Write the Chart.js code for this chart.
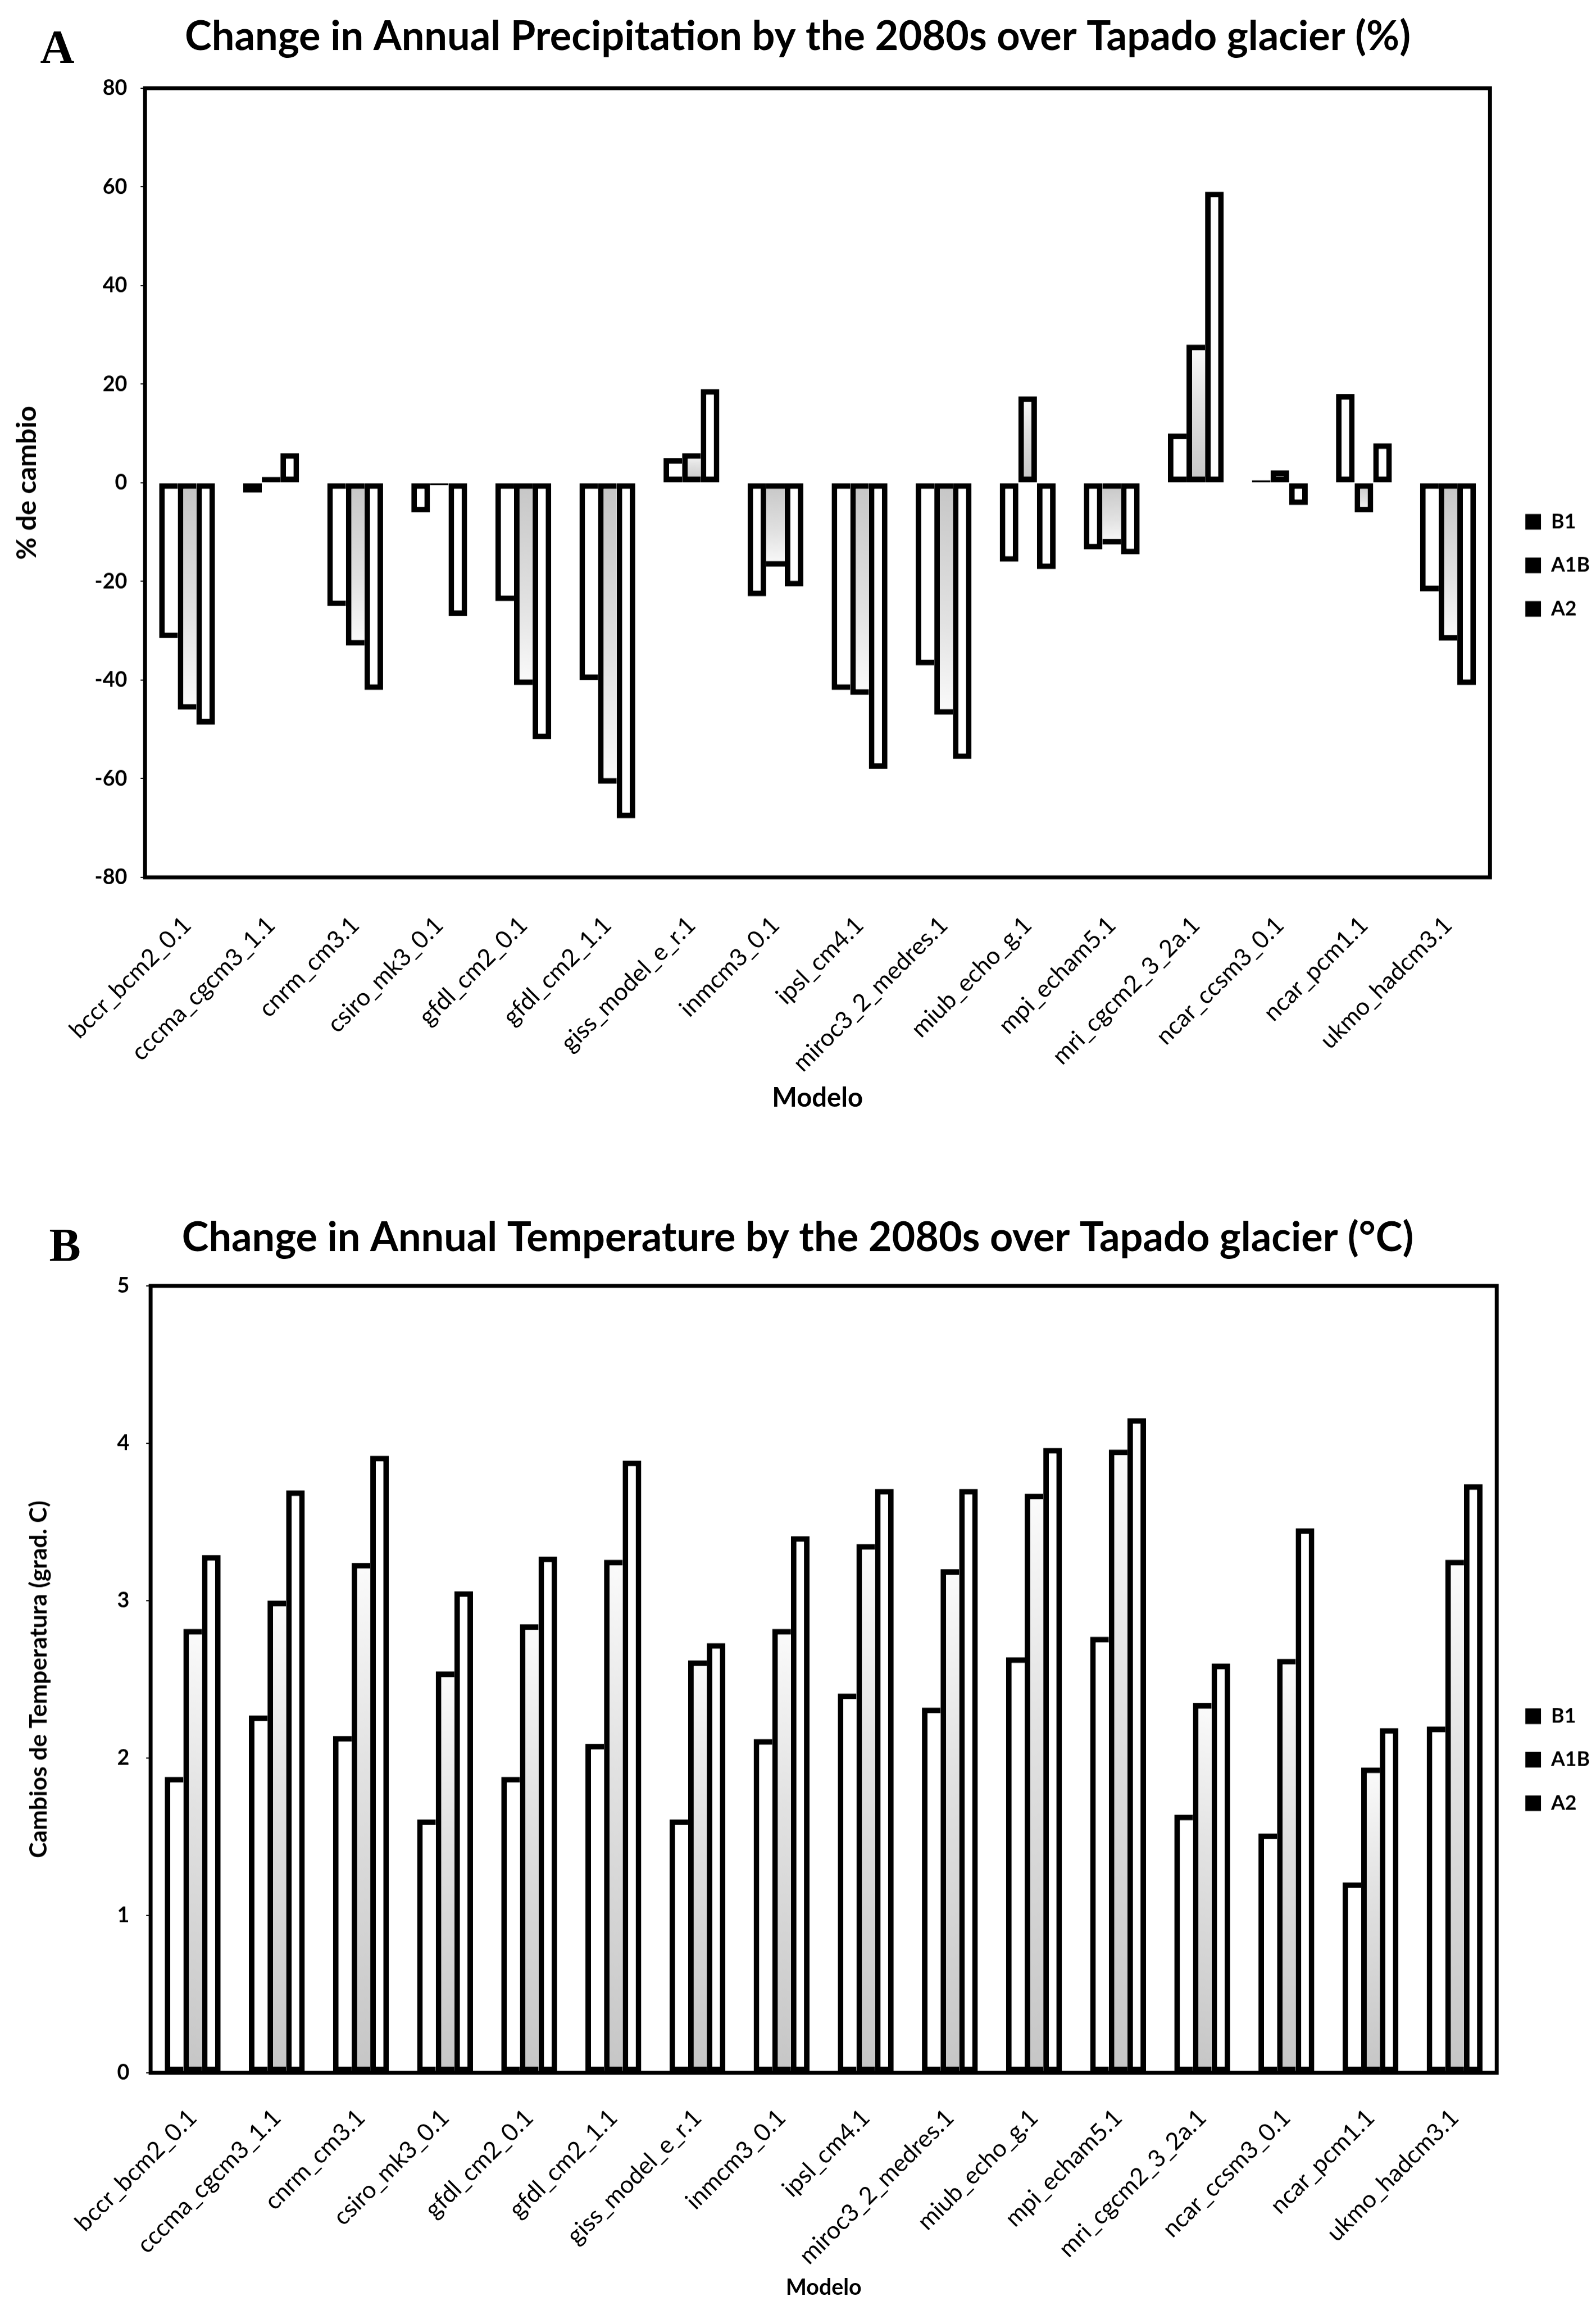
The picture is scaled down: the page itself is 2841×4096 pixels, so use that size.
<!DOCTYPE html>
<html>
<head>
<meta charset="utf-8">
<script src="https://cdn.jsdelivr.net/npm/chart.js@4.4.1/dist/chart.umd.min.js"></script>
<style>
    html, body { margin: 0; padding: 0; background: #fff; overflow: hidden; }
    .panel { position: absolute; left: 0; }
    .tag { position: absolute; font-family: 'Liberation Serif', 'DejaVu Serif', serif; font-weight: bold; line-height: 1; color: #000; }
</style>
</head>
<body>
<div class="tag" id="tagA">A</div>
<div class="tag" id="tagB">B</div>
<div class="panel" id="boxA"><canvas id="precipChart"></canvas></div>
<div class="panel" id="boxB"><canvas id="tempChart"></canvas></div>
<script>
// Chart data
const models = ['bccr_bcm2_0.1', 'cccma_cgcm3_1.1', 'cnrm_cm3.1', 'csiro_mk3_0.1', 'gfdl_cm2_0.1', 'gfdl_cm2_1.1',
    'giss_model_e_r.1', 'inmcm3_0.1', 'ipsl_cm4.1', 'miroc3_2_medres.1', 'miub_echo_g.1', 'mpi_echam5.1',
    'mri_cgcm2_3_2a.1', 'ncar_ccsm3_0.1', 'ncar_pcm1.1', 'ukmo_hadcm3.1'];
const scenarios = ['B1', 'A1B', 'A2'];

const precipB1  = [-31.5, -2, -25, -6, -24, -40, 5, -23, -42, -37, -16, -13.5, 10, 0.5, 18, -22];
const precipA1B = [-46, 1.2, -33, -0.5, -41, -61, 6, -17, -43, -47, 17.5, -12.5, 28, 2.5, -6, -32];
const precipA2  = [-49, 6, -42, -27, -52, -68, 19, -21, -58, -56, -17.5, -14.5, 59, -4.5, 8, -41];

const tempB1  = [1.88, 2.27, 2.14, 1.61, 1.88, 2.09, 1.61, 2.12, 2.41, 2.32, 2.64, 2.77, 1.64, 1.52, 1.21, 2.20];
const tempA1B = [2.82, 3.00, 3.24, 2.55, 2.85, 3.26, 2.62, 2.82, 3.36, 3.20, 3.68, 3.96, 2.35, 2.63, 1.94, 3.26];
const tempA2  = [3.29, 3.70, 3.92, 3.06, 3.28, 3.89, 2.73, 3.41, 3.71, 3.71, 3.97, 4.16, 2.60, 3.46, 2.19, 3.74];

const precipAxis = { min: -80, max: 80, step: 20 };
const tempAxis = { min: 0, max: 5, step: 1 };

// Layout (reference pixels, scaled by S on the way out)
const S = 0.993;
const k = v => v * S;
const FAMILY = 'Lato, "Open Sans", sans-serif';
const FRAME = 7;
const OUTLINE = 10;

const measure = document.createElement('canvas').getContext('2d');
function textWidth(text, weight, size) {
    measure.font = weight + ' ' + size + 'px ' + FAMILY;
    return measure.measureText(text).width;
}
// font size (reference px) that makes text this wide
function fitSize(text, weight, width) {
    return 100 * width / textWidth(text, weight, 100);
}

function placeBox(id, top, left, width, height) {
    const el = document.getElementById(id);
    el.style.top = k(top) + 'px';
    el.style.left = k(left) + 'px';
    if (width) el.style.width = k(width) + 'px';
    if (height) el.style.height = k(height) + 'px';
    return el;
}
placeBox('tagA', 42, 72).style.fontSize = k(85) + 'px';
placeBox('tagB', 2190, 88).style.fontSize = k(85) + 'px';

// light dotted fill of the A1B bars: greyer at the base, fading out
function stipple(ctx) {
    const chart = ctx.chart;
    if (!chart.chartArea || ctx.dataIndex === undefined) return '#e0e0e0';
    const y = chart.scales.y;
    const y0 = y.getPixelForValue(0), y1 = y.getPixelForValue(ctx.raw);
    if (Math.abs(y1 - y0) < 1) return '#e0e0e0';
    const g = chart.ctx.createLinearGradient(0, y0, 0, y1);
    g.addColorStop(0, '#c6c6c6');
    g.addColorStop(0.6, '#e2e2e2');
    g.addColorStop(1, '#fbfbfb');
    return g;
}

// draw only the outside of each group so the three bars read as one stepped block
function stepBorder(ctx, series) {
    const w = k(OUTLINE);
    const i = ctx.datasetIndex, j = ctx.dataIndex;
    if (j === undefined) return w;
    const v = series[i][j];
    const prev = i > 0 ? series[i - 1][j] : null;
    const next = i < series.length - 1 ? series[i + 1][j] : null;
    const outer = n => n === null || Math.sign(n) !== Math.sign(v) || Math.abs(v) >= Math.abs(n);
    return { top: w, bottom: w, left: outer(prev) ? w : 0, right: outer(next) ? w : 0 };
}

const framePlugin = {
    id: 'frame',
    afterDatasetsDraw(chart) {
        const { ctx, chartArea: a } = chart;
        ctx.save();
        ctx.strokeStyle = '#000';
        ctx.lineWidth = k(FRAME);
        ctx.strokeRect(a.left, a.top, a.right - a.left, a.bottom - a.top);
        ctx.restore();
    }
};

function blackLegend(chart) {
    return Chart.defaults.plugins.legend.labels.generateLabels(chart).map(l =>
        Object.assign(l, { fillStyle: '#000', strokeStyle: '#000', lineWidth: 0, fontColor: '#000' }));
}

function buildChart(canvasId, boxId, cfg) {
    const canvasH = cfg.height;
    placeBox(boxId, cfg.top, 0, 2860, canvasH);

    const titleSize = fitSize(cfg.title, 'bold', cfg.titleWidth);
    const titleLH = titleSize * 1.2;
    const titlePadTop = (cfg.titleY - cfg.top) - titleLH / 2;
    const titlePadBottom = (cfg.plot.top - cfg.top) - titlePadTop - titleLH;

    const yTitleSize = fitSize(cfg.yTitle, 'bold', cfg.yTitleLen);
    const xTitleSize = fitSize('Modelo', 'bold', cfg.xTitleLen);
    const xTickSize = fitSize(models[0], 'normal', 287);
    const canvasBottom = cfg.top + canvasH;

    const legendSize = k(36);
    const legendW = k(42) + k(28) + legendSize / 2 + textWidth('A1B', 'bold', legendSize) + 10;
    const padW = Math.max(0, k(2860) - legendW - k(cfg.plot.right));

    const series = cfg.series;
    return new Chart(document.getElementById(canvasId), {
        type: 'bar',
        data: {
            labels: models,
            datasets: scenarios.map((name, i) => ({
                label: name,
                data: series[i],
                backgroundColor: i === 1 ? stipple : '#ffffff',
                borderColor: '#000',
                borderWidth: ctx => stepBorder(ctx, series),
                borderSkipped: false,
                categoryPercentage: 0.664,
                barPercentage: 1.0
            }))
        },
        options: {
            responsive: true,
            maintainAspectRatio: false,
            animation: false,
            layout: { padding: 0 },
            plugins: {
                title: {
                    display: true,
                    text: cfg.title,
                    color: '#000',
                    font: { family: FAMILY, weight: 'bold', size: k(titleSize) },
                    padding: { top: k(titlePadTop), bottom: k(titlePadBottom) }
                },
                legend: {
                    position: 'right',
                    labels: {
                        color: '#000',
                        font: { family: FAMILY, weight: 'bold', size: legendSize },
                        boxWidth: k(28),
                        boxHeight: k(28),
                        padding: k(42),
                        generateLabels: blackLegend
                    }
                },
                tooltip: { enabled: false }
            },
            scales: {
                x: {
                    grid: { display: false, drawTicks: false },
                    border: { display: false },
                    ticks: {
                        color: '#000',
                        font: { family: FAMILY, size: k(xTickSize) },
                        minRotation: 45, maxRotation: 45, autoSkip: false,
                        padding: k(cfg.labelPad)
                    },
                    title: {
                        display: true, text: 'Modelo', color: '#000',
                        font: { family: FAMILY, weight: 'bold', size: k(xTitleSize) },
                        padding: { top: 0, bottom: k(canvasBottom - cfg.xTitleY - xTitleSize * 0.6) }
                    },
                    afterFit: s => { s.height = k(canvasBottom - cfg.plot.bottom); }
                },
                y: {
                    min: cfg.axis.min, max: cfg.axis.max,
                    ticks: {
                        stepSize: cfg.axis.step, color: '#000',
                        font: { family: FAMILY, weight: 'bold', size: k(38) },
                        padding: k(cfg.yTickPad)
                    },
                    grid: { drawOnChartArea: false, drawTicks: true, tickLength: k(8), color: '#000', lineWidth: k(2) },
                    border: { display: false },
                    title: {
                        display: true, text: cfg.yTitle, color: '#000',
                        font: { family: FAMILY, weight: 'bold', size: k(yTitleSize) },
                        padding: { top: k(cfg.yTitleX - yTitleSize * 0.6), bottom: 0 }
                    },
                    afterFit: s => { s.width = k(cfg.plot.left); }
                },
                // empty spacer between the frame and the legend
                pad: {
                    type: 'linear', position: 'right', display: true,
                    grid: { display: false, drawTicks: false },
                    border: { display: false },
                    ticks: { display: false },
                    afterFit: s => { s.width = padW; }
                }
            }
        },
        plugins: [framePlugin]
    });
}

buildChart('precipChart', 'boxA', {
    top: 0, height: 2026,
    plot: { left: 260, right: 2671, top: 158, bottom: 1572 },
    title: 'Change in Annual Precipitation by the 2080s over Tapado glacier (%)',
    titleWidth: 2198, titleY: 66.5,
    yTitle: '% de cambio', yTitleLen: 276, yTitleX: 49,
    xTitleLen: 163, xTitleY: 1968,
    labelPad: 60, yTickPad: 24,
    axis: precipAxis,
    series: [precipB1, precipA1B, precipA2]
});

buildChart('tempChart', 'boxB', {
    top: 2150, height: 2008,
    plot: { left: 270, right: 2683, top: 2305, bottom: 3715 },
    title: 'Change in Annual Temperature by the 2080s over Tapado glacier (°C)',
    titleWidth: 2208, titleY: 2219,
    yTitle: 'Cambios de Temperatura (grad. C)', yTitleLen: 641, yTitleX: 70,
    xTitleLen: 136, xTitleY: 4100,
    labelPad: 55, yTickPad: 30,
    axis: tempAxis,
    series: [tempB1, tempA1B, tempA2]
});
</script>
</body>
</html>
